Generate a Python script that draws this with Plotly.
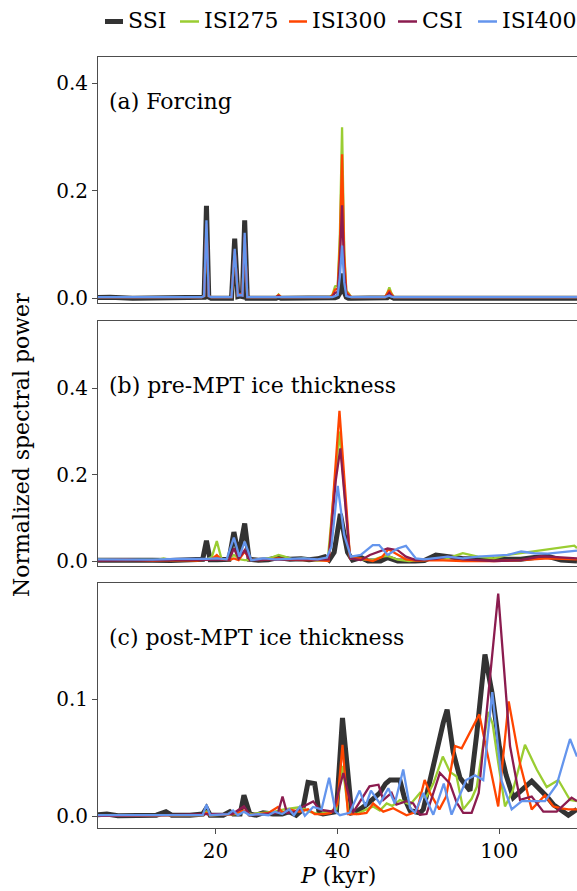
import plotly.graph_objects as go

# ---------------- data ----------------
SERIES = ["SSI", "ISI275", "ISI300", "CSI", "ISI400"]

# panel (a) Forcing : shared period grid (kyr)
P_A = [10.0, 11.0, 12.5, 15.0, 17.5, 18.5, 18.75, 19.0, 19.25, 19.5,
       21.9, 22.3, 22.7, 23.0, 23.3, 23.6, 23.95,
       28.2, 28.6, 29.0,
       38.2, 38.8, 39.4, 40.0, 40.5, 41.0, 41.5, 42.0, 42.5, 43.2,
       52.3, 53.0, 53.6, 54.2, 55.0, 155.4]
A_SSI = [0.001, 0.002, 0.0, 0.001, 0.0, 0.0, 0.002, 0.172, 0.002, 0.0,
         0.0, 0.111, 0.003, 0.004, 0.003, 0.145, 0.0,
         0.0, 0.002, 0.0,
         0.0, 0.0, 0.001, 0.003, 0.010, 0.046, 0.012, 0.002, 0.0, 0.0,
         0.0, 0.001, 0.004, 0.001, 0.0, 0.0]
A_ISI275 = [0.002, 0.002, 0.002, 0.002, 0.002, 0.002, 0.004, 0.130, 0.004, 0.002,
            0.002, 0.086, 0.006, 0.008, 0.006, 0.112, 0.002,
            0.002, 0.007, 0.002,
            0.002, 0.006, 0.022, 0.024, 0.120, 0.318, 0.090, 0.014, 0.010, 0.002,
            0.002, 0.010, 0.020, 0.010, 0.002, 0.002]
A_ISI300 = [0.002, 0.002, 0.002, 0.002, 0.002, 0.002, 0.004, 0.133, 0.004, 0.002,
            0.002, 0.088, 0.006, 0.008, 0.006, 0.114, 0.002,
            0.002, 0.006, 0.002,
            0.002, 0.005, 0.016, 0.018, 0.100, 0.268, 0.080, 0.012, 0.008, 0.002,
            0.002, 0.008, 0.015, 0.008, 0.002, 0.002]
A_CSI = [0.002, 0.002, 0.002, 0.002, 0.002, 0.002, 0.004, 0.138, 0.004, 0.002,
         0.002, 0.090, 0.005, 0.006, 0.005, 0.118, 0.002,
         0.002, 0.004, 0.002,
         0.002, 0.003, 0.010, 0.012, 0.070, 0.173, 0.050, 0.008, 0.005, 0.002,
         0.002, 0.005, 0.010, 0.005, 0.002, 0.002]
A_ISI400 = [0.002, 0.002, 0.002, 0.002, 0.002, 0.002, 0.004, 0.145, 0.004, 0.002,
            0.002, 0.092, 0.005, 0.006, 0.005, 0.122, 0.002,
            0.002, 0.003, 0.002,
            0.002, 0.002, 0.004, 0.006, 0.040, 0.098, 0.030, 0.004, 0.003, 0.002,
            0.002, 0.003, 0.005, 0.003, 0.002, 0.002]

# panel (b) pre-MPT ice thickness
B_SSI_P = [10.2, 11.5, 12.5, 14.0, 15.5, 17.0, 18.0, 18.6, 19.0, 19.4,
           20.2, 21.0, 21.6, 22.2, 22.8, 23.6, 24.2, 25.5, 27.0, 28.5,
           30.5, 32.5, 34.0, 35.7, 37.2, 38.1, 39.2, 40.6, 42.3, 43.5,
           45.6, 47.5, 51.0, 53.1, 56.2, 62.0, 65.4, 69.8, 74.6, 81.0,
           97.0, 113.0, 122.0, 131.7, 142.0, 155.4]
B_SSI = [0.002, 0.003, 0.001, 0.002, 0.001, 0.002, 0.002, 0.004, 0.047, 0.003,
         0.003, 0.002, 0.004, 0.067, 0.012, 0.087, 0.004, 0.002, 0.003, 0.008,
         0.004, 0.005, 0.003, 0.005, 0.010, 0.002, 0.020, 0.109, 0.020, 0.002,
         0.008, 0.000, 0.000, 0.008, 0.000, 0.000, 0.001, 0.014, 0.010, 0.006,
         0.004, 0.004, 0.008, 0.011, 0.002, 0.000]
B_ISI275_P = [10.2, 12.0, 14.5, 14.9, 15.5, 18.0, 19.0, 19.6, 20.15, 20.7,
              21.5, 22.2, 22.9, 23.6, 24.5, 26.0, 27.5, 28.6, 29.6, 31.0,
              33.0, 35.7, 37.8, 40.4, 42.9, 45.6, 48.8, 51.5, 53.1, 56.2,
              60.0, 65.4, 74.6, 81.3, 88.5, 97.0, 105.0, 113.0, 131.7, 153.1,
              155.4]
B_ISI275 = [0.003, 0.002, 0.003, 0.006, 0.002, 0.002, 0.003, 0.010, 0.046, 0.004,
            0.003, 0.014, 0.004, 0.002, 0.003, 0.003, 0.008, 0.014, 0.010, 0.004,
            0.006, 0.001, 0.002, 0.300, 0.006, 0.004, 0.002, 0.010, 0.012, 0.003,
            0.000, 0.004, 0.006, 0.018, 0.010, 0.006, 0.014, 0.018, 0.027, 0.0355,
            0.030]
B_ISI300_P = [10.2, 12.0, 14.0, 16.0, 18.0, 19.0, 19.6, 20.15, 20.7, 21.6,
              22.2, 22.8, 23.6, 24.3, 26.0, 28.5, 30.5, 33.0, 35.7, 38.0,
              40.4, 42.9, 45.6, 48.8, 51.5, 53.3, 56.2, 58.9, 62.3, 70.0,
              81.3, 97.0, 113.0, 131.7, 155.4]
B_ISI300 = [0.002, 0.003, 0.001, 0.002, 0.001, 0.003, 0.005, 0.014, 0.003, 0.002,
            0.006, 0.002, 0.022, 0.003, 0.002, 0.006, 0.003, 0.002, 0.002, 0.000,
            0.348, 0.006, 0.006, 0.000, 0.010, 0.027, 0.014, 0.004, 0.001, 0.002,
            0.000, 0.000, 0.002, 0.006, 0.004]
B_CSI_P = [10.2, 13.0, 16.0, 19.0, 20.15, 21.6, 22.2, 22.8, 23.6, 24.3,
           27.0, 30.0, 33.0, 36.0, 38.0, 39.6, 40.6, 42.9, 45.6, 48.0,
           53.1, 56.2, 58.9, 62.3, 69.8, 74.6, 81.3, 97.0, 113.0, 127.0,
           140.0, 155.4]
B_CSI = [0.001, 0.002, 0.002, 0.003, 0.004, 0.003, 0.029, 0.006, 0.025, 0.002,
         0.003, 0.004, 0.004, 0.003, 0.004, 0.190, 0.261, 0.006, 0.002, 0.014,
         0.029, 0.025, 0.010, 0.002, 0.005, 0.010, 0.004, 0.000, 0.002, 0.011,
         0.008, 0.006]
B_ISI400_P = [10.2, 12.0, 14.0, 16.0, 18.0, 19.0, 20.15, 21.3, 22.2, 22.9,
              23.6, 24.5, 26.3, 28.0, 30.5, 33.0, 35.7, 37.6, 38.6, 40.0,
              41.5, 43.1, 45.6, 48.8, 50.6, 53.1, 56.2, 58.9, 62.3, 65.4,
              74.6, 81.3, 88.5, 97.2, 105.0, 113.2, 122.0, 131.7, 142.0, 153.1,
              155.4]
B_ISI400 = [0.004, 0.004, 0.003, 0.005, 0.004, 0.005, 0.006, 0.004, 0.054, 0.010,
            0.045, 0.002, 0.006, 0.004, 0.005, 0.006, 0.004, 0.008, 0.033, 0.174,
            0.060, 0.010, 0.014, 0.037, 0.037, 0.014, 0.029, 0.035, 0.006, 0.004,
            0.010, 0.006, 0.010, 0.012, 0.014, 0.022, 0.018, 0.017, 0.020, 0.023,
            0.024]

# panel (c) post-MPT ice thickness
C_SSI_P = [10.0, 10.8, 11.5, 13.0, 14.3, 15.1, 15.6, 17.3, 18.6, 19.0,
           19.4, 20.9, 21.7, 22.1, 23.0, 23.5, 23.9, 24.3, 25.2, 26.2,
           27.7, 29.2, 30.4, 31.6, 32.8, 33.8, 35.1, 36.0, 36.8, 38.1,
           39.7, 41.1, 43.3, 44.5, 46.0, 47.1, 48.9, 50.8, 52.5, 53.8,
           56.9, 58.5, 60.3, 63.8, 65.0, 68.8, 72.8, 74.4, 77.0, 80.0,
           84.7, 88.0, 92.2, 96.0, 100.0, 104.0, 108.3, 115.7, 120.2, 130.9,
           136.0, 148.0, 155.4]
C_SSI = [0.001, 0.002, 0.0005, 0.001, 0.001, 0.004, 0.001, 0.001, 0.002, 0.007,
         0.001, 0.001, 0.004, 0.002, 0.002, 0.018, 0.008, 0.002, 0.001, 0.003,
         0.002, 0.002, 0.004, 0.001, 0.006, 0.029, 0.028, 0.003, 0.002, 0.003,
         0.004, 0.084, 0.003, 0.004, 0.007, 0.010, 0.015, 0.020, 0.028, 0.031,
         0.031, 0.015, 0.005, 0.003, 0.006, 0.045, 0.080, 0.091, 0.055, 0.033,
         0.022, 0.070, 0.138, 0.105, 0.060, 0.035, 0.016, 0.025, 0.030, 0.017,
         0.010, 0.001, 0.006]
C_ISI275_P = [10.0, 14.0, 18.6, 19.0, 19.4, 22.5, 23.5, 24.5, 28.0, 29.5,
              31.0, 32.5, 34.0, 36.0, 38.1, 39.7, 41.1, 42.5, 44.5, 47.1,
              48.9, 50.8, 52.8, 54.5, 56.9, 60.3, 63.8, 66.0, 68.8, 72.6,
              75.6, 78.5, 81.5, 85.5, 88.0, 93.9, 96.3, 99.5, 103.3, 108.0,
              115.7, 123.7, 130.9, 139.8, 149.4, 155.4]
C_ISI275 = [0.001, 0.001, 0.001, 0.004, 0.001, 0.002, 0.004, 0.002, 0.004, 0.006,
            0.007, 0.008, 0.004, 0.002, 0.004, 0.006, 0.043, 0.004, 0.002, 0.006,
            0.0085, 0.005, 0.011, 0.009, 0.014, 0.010, 0.020, 0.016, 0.028, 0.051,
            0.038, 0.034, 0.006, 0.015, 0.025, 0.089, 0.079, 0.045, 0.0085, 0.022,
            0.061, 0.040, 0.025, 0.031, 0.014, 0.013]
C_ISI300_P = [10.0, 15.0, 18.6, 19.0, 19.4, 22.1, 23.5, 24.3, 27.0, 28.5,
              29.3, 30.4, 32.2, 33.8, 35.1, 37.0, 38.5, 39.9, 41.1, 42.4,
              45.0, 47.1, 48.9, 51.8, 54.8, 59.1, 62.6, 65.5, 67.5, 71.2,
              74.0, 77.8, 80.8, 89.3, 99.4, 105.5, 112.5, 120.2, 129.6, 136.0,
              141.1, 148.0, 155.4]
C_ISI300 = [0.0005, 0.001, 0.001, 0.003, 0.001, 0.002, 0.005, 0.001, 0.003, 0.008,
            0.003, 0.006, 0.004, 0.006, 0.002, 0.002, 0.003, 0.010, 0.061, 0.002,
            0.002, 0.003, 0.011, 0.004, 0.007, 0.001, 0.004, 0.031, 0.020, 0.006,
            0.017, 0.060, 0.058, 0.087, 0.0085, 0.098, 0.045, 0.006, 0.018, 0.0085,
            0.007, 0.006, 0.006]
C_CSI_P = [10.0, 15.0, 19.0, 22.0, 23.5, 24.3, 26.0, 28.5, 29.25, 30.0,
           31.5, 32.3, 34.8, 36.1, 39.0, 41.3, 43.6, 47.9, 50.4, 51.8,
           54.3, 55.8, 59.1, 61.4, 63.8, 66.2, 71.4, 75.6, 78.5, 81.5,
           85.5, 89.0, 99.4, 106.3, 112.5, 120.2, 128.4, 138.5, 150.7, 155.4]
C_CSI = [0.0005, 0.001, 0.002, 0.002, 0.0085, 0.001, 0.002, 0.003, 0.017, 0.003,
         0.004, 0.007, 0.0128, 0.0057, 0.004, 0.037, 0.003, 0.0256, 0.027, 0.014,
         0.020, 0.010, 0.013, 0.011, 0.0014, 0.002, 0.037, 0.028, 0.012, 0.003,
         0.003, 0.020, 0.190, 0.060, 0.014, 0.017, 0.004, 0.004, 0.016, 0.013]
C_ISI400_P = [10.0, 15.0, 18.6, 19.0, 19.4, 21.5, 22.1, 22.7, 23.5, 24.3,
              25.5, 27.0, 28.0, 29.2, 30.4, 31.2, 32.3, 33.2, 34.8, 36.5,
              38.1, 39.5, 40.5, 42.8, 45.3, 46.8, 48.3, 50.8, 53.3, 55.3,
              58.0, 60.3, 62.0, 65.0, 68.8, 73.0, 76.3, 82.9, 87.1, 91.3,
              96.1, 101.4, 107.3, 113.6, 129.6, 138.5, 149.4, 155.4]
C_ISI400 = [0.001, 0.001, 0.001, 0.010, 0.001, 0.002, 0.005, 0.001, 0.004, 0.001,
            0.002, 0.001, 0.004, 0.002, 0.006, 0.001, 0.0085, 0.0006, 0.008, 0.006,
            0.033, 0.004, 0.001, 0.003, 0.022, 0.0085, 0.022, 0.011, 0.024, 0.011,
            0.040, 0.007, 0.003, 0.020, 0.0014, 0.028, 0.0015, 0.031, 0.035, 0.031,
            0.106, 0.030, 0.006, 0.013, 0.013, 0.027, 0.066, 0.051]

PANEL_LABELS = ["(a) Forcing", "(b) pre-MPT ice thickness", "(c) post-MPT ice thickness"]
X_TICKS = [20, 40, 100]
Y_TICKS = [[0.0, 0.2, 0.4], [0.0, 0.2, 0.4], [0.0, 0.1]]

# ---------------- style ----------------
COLORS = {"SSI": "#333333", "ISI275": "#9acd32", "ISI300": "#ff4500",
          "CSI": "#8b1c4f", "ISI400": "#6495ed"}
WIDTHS = {"SSI": 5, "ISI275": 2.3, "ISI300": 2.3, "CSI": 2.3, "ISI400": 2.3}
FONT = "DejaVu Serif"
FRAME = "#4d4d4d"

panels = [
    {s: (P_A, y) for s, y in zip(SERIES, [A_SSI, A_ISI275, A_ISI300, A_CSI, A_ISI400])},
    {"SSI": (B_SSI_P, B_SSI), "ISI275": (B_ISI275_P, B_ISI275), "ISI300": (B_ISI300_P, B_ISI300),
     "CSI": (B_CSI_P, B_CSI), "ISI400": (B_ISI400_P, B_ISI400)},
    {"SSI": (C_SSI_P, C_SSI), "ISI275": (C_ISI275_P, C_ISI275), "ISI300": (C_ISI300_P, C_ISI300),
     "CSI": (C_CSI_P, C_CSI), "ISI400": (C_ISI400_P, C_ISI400)},
]

fig = go.Figure()
for i, pdata in enumerate(panels):
    sfx = "" if i == 0 else str(i + 1)
    for s in SERIES:
        xs, ys = pdata[s]
        fig.add_trace(go.Scatter(x=xs, y=ys, mode="lines", name=s,
                                 line=dict(color=COLORS[s], width=WIDTHS[s]),
                                 xaxis="x" + sfx, yaxis="y" + sfx,
                                 showlegend=False, hoverinfo="skip"))

W, H = 577, 891
L, R, T, B = 98, 0, 57, 63
domains = [[0.6806, 1.0], [0.3398, 0.658], [0.0, 0.3182]]
yranges = [[-0.0093, 0.4489], [-0.0116, 0.5566], [-0.0099, 0.1993]]
label_y = [0.82, 0.734, 0.775]
TICK_SIZE = 20
TEXT_SIZE = 22

layout = dict(width=W, height=H, margin=dict(l=L, r=R, t=T, b=B),
              paper_bgcolor="white", plot_bgcolor="white",
              font=dict(family=FONT, size=TICK_SIZE, color="black"),
              showlegend=False)
for i in range(3):
    sfx = "" if i == 0 else str(i + 1)
    last = (i == 2)
    layout["xaxis" + sfx] = dict(
        type="log", range=[1.0116, 2.1915], domain=[0, 1], anchor="y" + sfx,
        showline=True, mirror=True, linecolor=FRAME, linewidth=1,
        showgrid=False, zeroline=False,
        ticks="outside" if last else "", ticklen=5, tickcolor=FRAME,
        tickvals=X_TICKS, ticktext=[str(v) for v in X_TICKS],
        showticklabels=last, tickfont=dict(family=FONT, size=TICK_SIZE),
        matches=None if i == 0 else "x")
    layout["yaxis" + sfx] = dict(
        domain=domains[i], range=yranges[i], anchor="x" + sfx,
        showline=True, mirror=True, linecolor=FRAME, linewidth=1,
        showgrid=False, zeroline=False,
        ticks="outside", ticklen=5, tickcolor=FRAME,
        tickvals=Y_TICKS[i], tickformat=".1f", tickfont=dict(family=FONT, size=TICK_SIZE))
fig.update_layout(**layout)

annotations = []
for i, lab in enumerate(PANEL_LABELS):
    sfx = "" if i == 0 else str(i + 1)
    annotations.append(dict(text=lab, xref="x" + sfx + " domain", yref="y" + sfx + " domain",
                            x=0.019, y=label_y[i], xanchor="left", yanchor="middle",
                            showarrow=False, font=dict(family=FONT, size=TEXT_SIZE)))
pw = W - L - R
ph = H - T - B
def px(xp):
    return (xp - L) / pw
def py(yp):
    return (H - B - yp) / ph

annotations.append(dict(text="Normalized spectral power", xref="paper", yref="paper",
                        x=px(21), y=py(445), textangle=-90, xanchor="center", yanchor="middle",
                        showarrow=False, font=dict(family=FONT, size=TEXT_SIZE)))
annotations.append(dict(text="<i>P</i> (kyr)", xref="paper", yref="paper",
                        x=px(338), y=py(890), xanchor="center", yanchor="bottom",
                        showarrow=False, font=dict(family=FONT, size=TEXT_SIZE)))

# legend drawn above the panels
leg_line = [(105, 123), (180, 199), (289, 307), (398, 417), (478, 497)]
leg_text = [126, 202, 310, 420, 500]
shapes = []
for s, (x0, x1), xt in zip(SERIES, leg_line, leg_text):
    shapes.append(dict(type="line", xref="paper", yref="paper",
                       x0=px(x0), x1=px(x1), y0=py(21.5), y1=py(21.5),
                       line=dict(color=COLORS[s], width=5 if s == "SSI" else 2.5)))
    annotations.append(dict(text=s, xref="paper", yref="paper", x=px(xt), y=py(21),
                            xanchor="left", yanchor="middle", showarrow=False,
                            font=dict(family=FONT, size=TEXT_SIZE)))
fig.update_layout(annotations=annotations, shapes=shapes)

fig.write_html("out.html")
